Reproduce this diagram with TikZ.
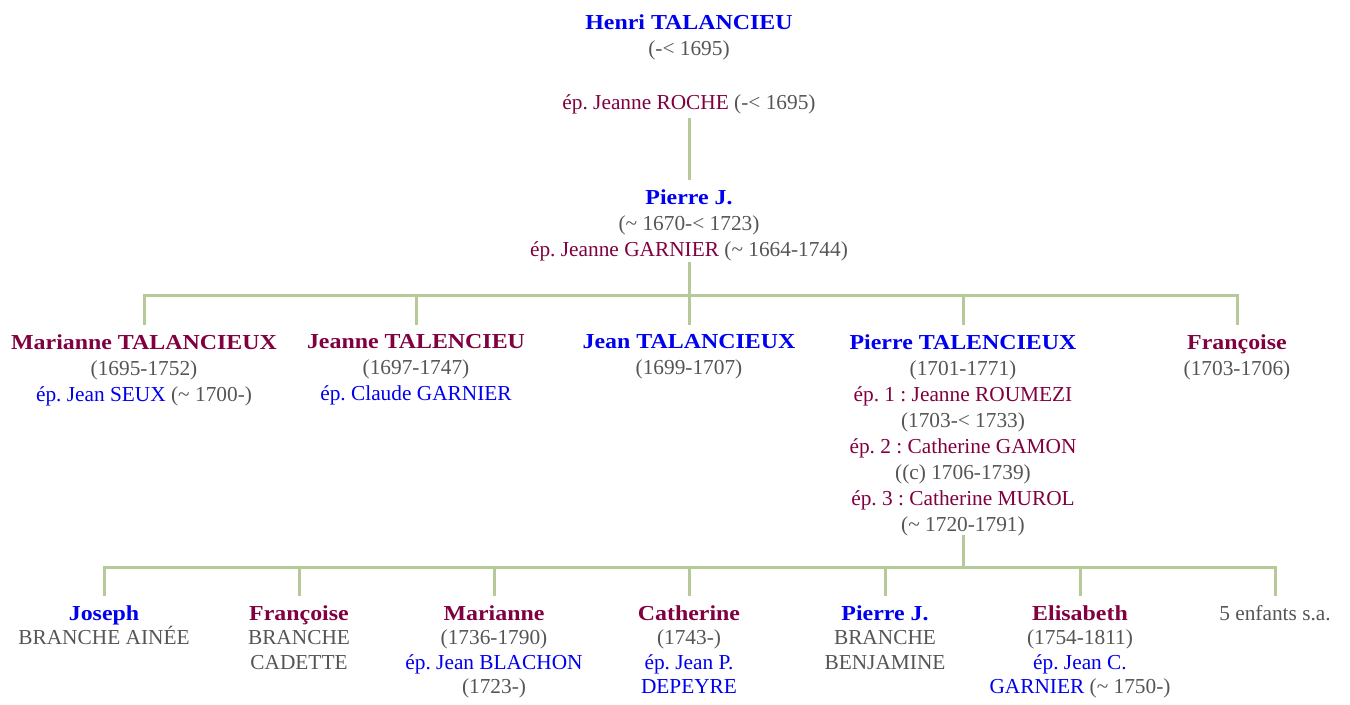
\documentclass[tikz,border=0pt]{standalone}
\usepackage{fontspec}
\setmainfont[BoldFeatures={FakeStretch=1.12}]{Liberation Serif}
\frenchspacing
\definecolor{homme}{RGB}{0,0,240}
\definecolor{femme}{RGB}{128,0,64}
\definecolor{date}{RGB}{85,85,85}
\definecolor{branche}{RGB}{181,201,153}
\newcommand{\homme}[1]{\textcolor{homme}{\textbf{#1}}}
\newcommand{\femme}[1]{\textcolor{femme}{\textbf{#1}}}
\newcommand{\epH}[1]{\textcolor{homme}{#1}}
\newcommand{\epF}[1]{\textcolor{femme}{#1}}
\newcommand{\dat}[1]{\textcolor{date}{#1}}
\newcommand{\env}{\textasciitilde}
\begin{document}
\begin{tikzpicture}[x=0.75pt, y=-0.75pt, line width=2.25pt,
  person node/.style={align=center, anchor=north, inner xsep=2pt, inner ysep=6pt, font=\fontsize{16}{19.5}\selectfont},
  child node/.style={person node, font=\fontsize{16}{18.4}\selectfont},
  branch/.style={draw=branche}]
\useasboundingbox (0,0) rectangle (1350,704);
\begin{scope}[every node/.style={person node}]
\node (henri) at (689,5) {\homme{Henri TALANCIEU}\\ \dat{(-< 1695)}\\[21pt] \epF{ép. Jeanne ROCHE} \dat{(-< 1695)}};
\node (pierre) at (689,180) {\homme{Pierre J.}\\ \dat{(\env{} 1670-< 1723)}\\ \epF{ép. Jeanne GARNIER} \dat{(\env{} 1664-1744)}};
\node (m1) at (144,325) {\femme{Marianne TALANCIEUX}\\ \dat{(1695-1752)}\\ \epH{ép. Jean SEUX} \dat{(\env{} 1700-)}};
\node (m2) at (416,325) {\femme{Jeanne TALENCIEU}\\ \dat{(1697-1747)}\\ \epH{ép. Claude GARNIER}};
\node (m3) at (689,325) {\homme{Jean TALANCIEUX}\\ \dat{(1699-1707)}};
\node (m4) at (963,325) {\homme{Pierre TALENCIEUX}\\ \dat{(1701-1771)}\\ \epF{ép. 1 : Jeanne ROUMEZI}\\ \dat{(1703-< 1733)}\\ \epF{ép. 2 : Catherine GAMON}\\ \dat{((c) 1706-1739)}\\ \epF{ép. 3 : Catherine MUROL}\\ \dat{(\env{} 1720-1791)}};
\node (m5) at (1237,325) {\femme{Françoise}\\ \dat{(1703-1706)}};
\end{scope}
\begin{scope}[every node/.style={child node}]
\node (g1) at (104,596) {\homme{Joseph}\\ \dat{BRANCHE AINÉE}};
\node (g2) at (299,596) {\femme{Françoise}\\ \dat{BRANCHE}\\ \dat{CADETTE}};
\node (g3) at (494,596) {\femme{Marianne}\\ \dat{(1736-1790)}\\ \epH{ép. Jean BLACHON}\\ \dat{(1723-)}};
\node (g4) at (689,596) {\femme{Catherine}\\ \dat{(1743-)}\\ \epH{ép. Jean P.}\\ \epH{DEPEYRE}};
\node (g5) at (885,596) {\homme{Pierre J.}\\ \dat{BRANCHE}\\ \dat{BENJAMINE}};
\node (g6) at (1080,596) {\femme{Elisabeth}\\ \dat{(1754-1811)}\\ \epH{ép. Jean C.}\\ \epH{GARNIER} \dat{(\env{} 1750-)}};
\node (g7) at (1275,596) {\dat{5 enfants s.a.}};
\end{scope}
\coordinate (bar1) at (689,295);
\coordinate (bar2) at (963,567);
\begin{scope}[branch]
\draw[shorten <=-3.75pt] (henri) -- (pierre);
\draw[shorten <=-6pt] (pierre) -- (bar1);
\draw (m1.north) |- (bar1) -| (m5.north);
\draw (m2.north) -- (m2.north |- bar1);
\draw (m3.north) -- (bar1);
\draw (m4.north) -- (m4.north |- bar1);
\draw[shorten <=-7.5pt] (m4) -- (bar2);
\draw (g1.north) |- (bar2) -| (g7.north);
\draw (g2.north) -- (g2.north |- bar2);
\draw (g3.north) -- (g3.north |- bar2);
\draw (g4.north) -- (g4.north |- bar2);
\draw (g5.north) -- (g5.north |- bar2);
\draw (g6.north) -- (g6.north |- bar2);
\end{scope}
\end{tikzpicture}
\end{document}
